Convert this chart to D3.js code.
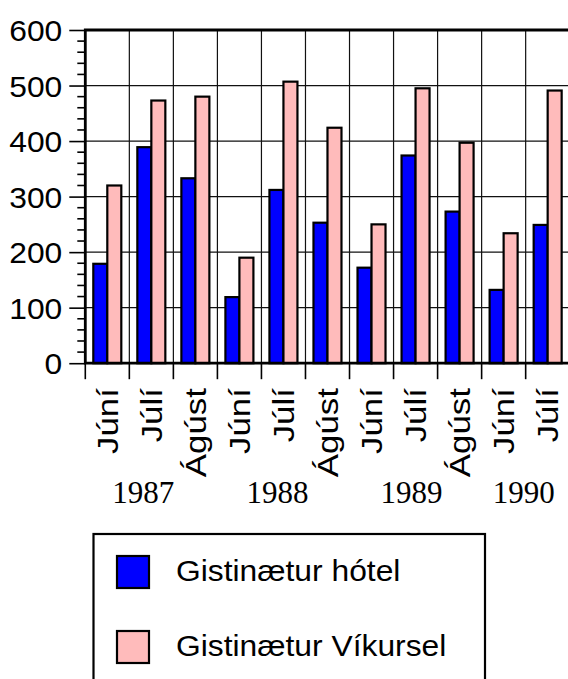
<!DOCTYPE html>
<html>
<head>
<meta charset="utf-8">
<script src="https://cdn.jsdelivr.net/npm/d3@7"></script>
<style>
  body { margin: 0; background: #fff; }
  svg { display: block; }
  .sans { font-family: "Liberation Sans", Arial, sans-serif; fill: #000; }
  .serif { font-family: "Liberation Serif", "Times New Roman", serif; fill: #000; }
</style>
</head>
<body>
<svg id="chart" width="568" height="679"></svg>
<script>
// months shown on the x axis, one per bar pair
var months = ["Júní", "Júlí", "Ágúst", "Júní", "Júlí", "Ágúst", "Júní", "Júlí", "Ágúst", "Júní", "Júlí"];
// year that each group of months belongs to
var years = ["1987", "1988", "1989", "1990"];
var monthsPerYear = [3, 3, 3, 2];
var series = ["Gistinætur hótel", "Gistinætur Víkursel"];
var hotel = [179, 389, 333, 119, 312, 253, 172, 374, 273, 132, 249];
var vikursel = [320, 473, 480, 190, 507, 424, 250, 495, 397, 234, 491];
var colors = ["#0000ff", "#ffbbbb"];
var yMajor = [0, 100, 200, 300, 400, 500, 600];

var svg = d3.select("#chart");

var pLeft = 85.3, pRight = 569.7, pTop = 30, pBottom = 363.2;

var cats = d3.range(months.length);
var x = d3.scaleBand().domain(cats).range([pLeft, pRight]).padding(0);
var xs = d3.scaleBand().domain(series).range([8, 36]).padding(0);
var y = d3.scaleLinear().domain([0, 600]).range([pBottom, pTop]);

var rows = cats.map(function (i) {
  return [
    { key: series[0], value: hotel[i], color: colors[0] },
    { key: series[1], value: vikursel[i], color: colors[1] }
  ];
});

// grid
var grid = svg.append("g").attr("stroke", "#111").attr("stroke-width", 1.2);
grid.selectAll("line.h")
  .data(yMajor)
  .enter().append("line")
  .attr("x1", pLeft).attr("x2", pRight)
  .attr("y1", function (d) { return y(d); })
  .attr("y2", function (d) { return y(d); });
grid.selectAll("line.v")
  .data(cats.slice(1))
  .enter().append("line")
  .attr("y1", pTop).attr("y2", pBottom)
  .attr("x1", function (d) { return x(d); })
  .attr("x2", function (d) { return x(d); });

// bars
var groups = svg.append("g")
  .selectAll("g")
  .data(rows)
  .enter().append("g")
  .attr("transform", function (d, i) { return "translate(" + x(i) + ",0)"; });

groups.selectAll("rect")
  .data(function (d) { return d; })
  .enter().append("rect")
  .attr("x", function (d) { return xs(d.key); })
  .attr("width", xs.bandwidth())
  .attr("y", function (d) { return y(d.value); })
  .attr("height", function (d) { return y(0) - y(d.value); })
  .attr("fill", function (d) { return d.color; })
  .attr("stroke", "#000")
  .attr("stroke-width", 2.2);

// y axis ticks (major every 100, minor every 20)
var yAxis = d3.axisLeft(y)
  .tickValues(yMajor)
  .tickSize(16)
  .tickPadding(7)
  .tickFormat(d3.format("d"));
var gy = svg.append("g")
  .attr("transform", "translate(" + pLeft + ",0)")
  .call(yAxis);
gy.select(".domain").remove();
gy.selectAll(".tick line").attr("stroke", "#000").attr("stroke-width", 1.6);
gy.selectAll(".tick text")
  .attr("class", "sans")
  .attr("font-size", 30)
  .attr("text-anchor", "end")
  .attr("dy", "0.35em")
  .attr("x", null)
  .attr("transform", "translate(-23,0) scale(1.06,1)");

var minor = d3.range(0, 601, 20).filter(function (d) { return d % 100 !== 0; });
svg.append("g")
  .selectAll("line")
  .data(minor)
  .enter().append("line")
  .attr("x1", pLeft - 8).attr("x2", pLeft)
  .attr("y1", function (d) { return y(d); })
  .attr("y2", function (d) { return y(d); })
  .attr("stroke", "#000")
  .attr("stroke-width", 1.6);

// x ticks at category boundaries
svg.append("g")
  .selectAll("line")
  .data(cats)
  .enter().append("line")
  .attr("x1", function (d) { return x(d); })
  .attr("x2", function (d) { return x(d); })
  .attr("y1", pBottom).attr("y2", pBottom + 16)
  .attr("stroke", "#000")
  .attr("stroke-width", 1.6);

// frame: top, left and bottom (right edge falls outside the picture)
svg.append("path")
  .attr("d", "M" + pRight + "," + pTop + "H" + pLeft + "V" + pBottom + "H" + pRight)
  .attr("fill", "none")
  .attr("stroke", "#000")
  .attr("stroke-width", 2.8);

// month labels
svg.append("g")
  .selectAll("text")
  .data(months)
  .enter().append("text")
  .attr("class", "sans")
  .attr("font-size", 29)
  .attr("text-anchor", "end")
  .attr("dy", "0.36em")
  .attr("transform", function (d, i) {
    return "translate(" + (x(i) + x.bandwidth() / 2) + "," + (pBottom + 25) + ") rotate(-90) scale(1.2,1)";
  })
  .text(function (d) { return d; });

// year labels
var start = 0;
var yearData = years.map(function (yr, k) {
  var a = start, b = start + monthsPerYear[k] - 1;
  start += monthsPerYear[k];
  return { year: yr, cx: (x(a) + x(b) + x.bandwidth()) / 2 };
});
svg.append("g")
  .selectAll("text")
  .data(yearData)
  .enter().append("text")
  .attr("class", "serif")
  .attr("font-size", 31)
  .attr("text-anchor", "middle")
  .attr("x", function (d, i) { return Math.min(d.cx - 8 + i * 2, 568 - 34); })
  .attr("y", 503)
  .text(function (d) { return d.year; });

// legend
var legend = svg.append("g");
legend.append("rect")
  .attr("x", 93.5).attr("y", 534)
  .attr("width", 391.5).attr("height", 160)
  .attr("fill", "#fff")
  .attr("stroke", "#000")
  .attr("stroke-width", 2.2);

var item = legend.selectAll("g.item")
  .data(series)
  .enter().append("g")
  .attr("transform", function (d, i) { return "translate(0," + (i * 75) + ")"; });
item.append("rect")
  .attr("x", 117).attr("y", 556)
  .attr("width", 32).attr("height", 32)
  .attr("fill", function (d, i) { return colors[i]; })
  .attr("stroke", "#000")
  .attr("stroke-width", 2.2);
item.append("text")
  .attr("class", "sans")
  .attr("font-size", 30)
  .attr("transform", "translate(176,581) scale(1.06,1)")
  .text(function (d) { return d; });
</script>
</body>
</html>
